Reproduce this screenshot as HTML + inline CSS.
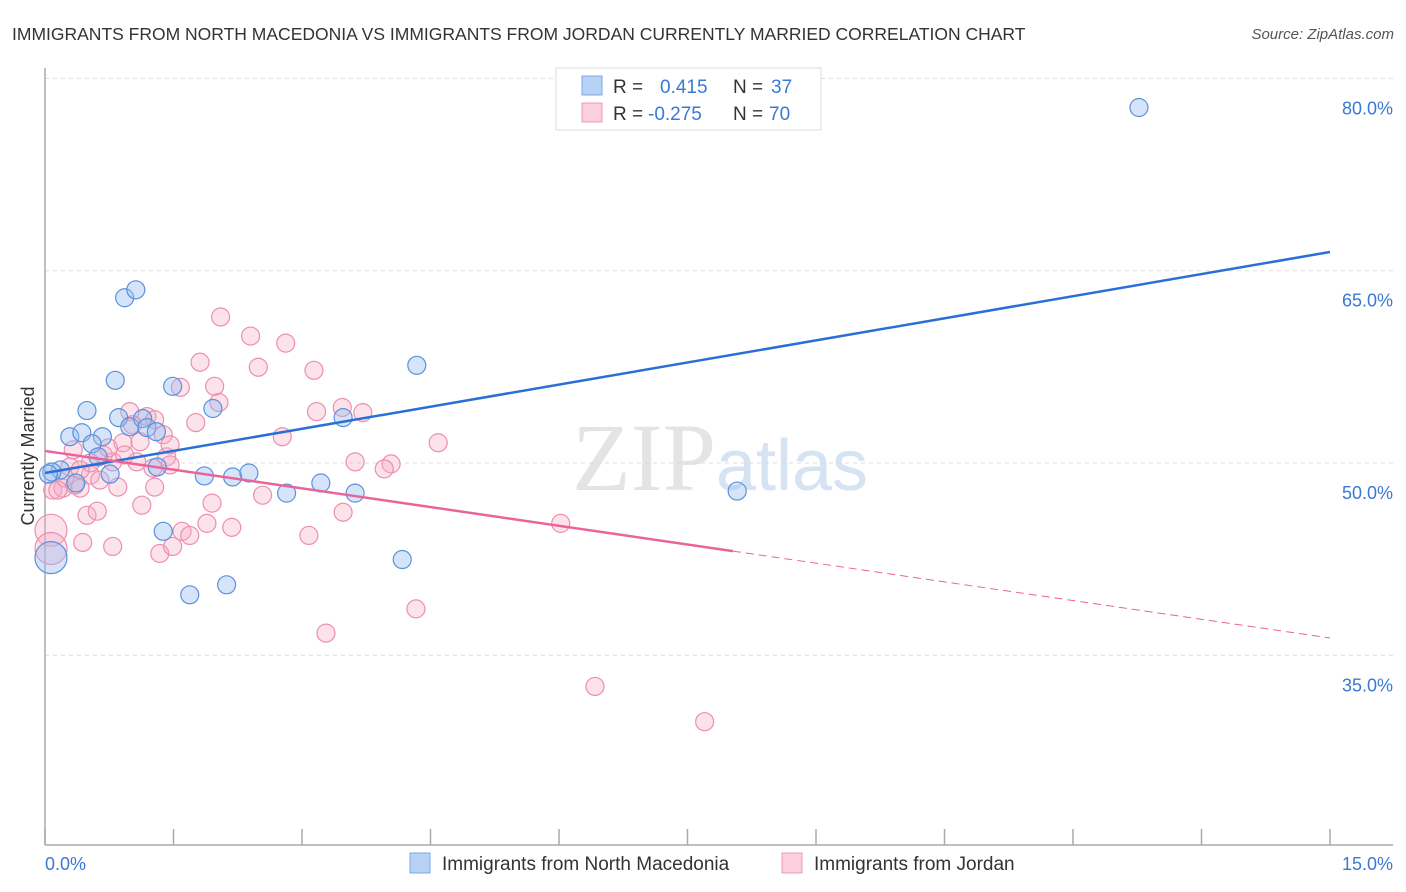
<!DOCTYPE html>
<html><head><meta charset="utf-8"><style>
body{margin:0;background:#fff;font-family:"Liberation Sans",sans-serif}
svg{display:block}
</style></head><body>
<svg id="chart" width="1406" height="892" xmlns="http://www.w3.org/2000/svg">
<text x="12" y="40" font-size="17.5" fill="#333">IMMIGRANTS FROM NORTH MACEDONIA VS IMMIGRANTS FROM JORDAN CURRENTLY MARRIED CORRELATION CHART</text>
<text x="1394" y="39" font-size="15" fill="#555" font-style="italic" text-anchor="end">Source: ZipAtlas.com</text>
<text x="720" y="490" font-size="96" fill="#e4e4e4" text-anchor="middle" font-family="Liberation Serif"><tspan>ZIP</tspan><tspan fill="#d5e3f3" font-family="Liberation Sans" font-size="72">atlas</tspan></text>
<g id="grid"></g>
<g id="axes"></g>
<g id="marks"></g>
<g id="trends"></g>
<text transform="translate(34,456) rotate(-90)" font-size="18" fill="#333" text-anchor="middle">Currently Married</text>
<g>
<rect x="556" y="68" width="265" height="62" fill="#fff" stroke="#ddd"/>
<rect x="582" y="76" width="20" height="19" fill="#b8d2f5" stroke="#7aa8e6"/>
<rect x="582" y="103" width="20" height="19" fill="#fbcfdc" stroke="#ee9bb5"/>
<text x="613" y="93" font-size="19" fill="#333">R = </text><text x="660" y="93" font-size="19" fill="#3b78d4">0.415</text>
<text x="733" y="93" font-size="19" fill="#333">N = </text><text x="771" y="93" font-size="19" fill="#3b78d4">37</text>
<text x="613" y="120" font-size="19" fill="#333">R = </text><text x="648" y="120" font-size="19" fill="#3b78d4">-0.275</text>
<text x="733" y="120" font-size="19" fill="#333">N = </text><text x="769" y="120" font-size="19" fill="#3b78d4">70</text>
</g>
<g>
<rect x="410" y="853" width="20" height="20" fill="#b8d2f5" stroke="#7aa8e6"/>
<text x="442" y="870" font-size="19" fill="#333">Immigrants from North Macedonia</text>
<rect x="782" y="853" width="20" height="20" fill="#fbcfdc" stroke="#ee9bb5"/>
<text x="814" y="870" font-size="19" fill="#333">Immigrants from Jordan</text>
</g>
</svg>
<script>
const yTicks=[80,65,50,35];
const yTickLabels=["80.0%","65.0%","50.0%","35.0%"];
const xTickLabels=["0.0%","15.0%"];
const blueX=[12.77,0.93,1.06,0.29,0.43,0.67,0.49,0.82,0.86,0.99,1.14,1.19,1.30,0.55,0.62,0.76,0.36,0.18,0.08,0.07,1.31,1.86,2.19,2.38,2.82,3.22,3.62,3.48,1.96,1.49,4.34,1.38,1.69,2.12,4.17,8.08,0.04];
const blueY=[77.73,62.89,63.51,52.05,52.36,52.05,54.09,56.45,53.54,52.83,53.46,52.76,52.44,51.50,50.48,49.14,48.44,49.46,49.30,42.62,49.69,48.99,48.91,49.22,47.65,48.44,47.65,53.54,54.25,55.98,57.62,44.67,39.72,40.50,42.47,47.81,49.14];
const blueR=[9,9,9,9,9,9,9,9,9,9,9,9,9,9,9,9,9,9,9,16,9,9,9,9,9,9,9,9,9,9,9,9,9,9,9,9,9];
const pinkX=[2.05,2.40,2.81,1.81,2.49,3.14,1.98,1.58,2.03,1.76,3.17,3.47,3.71,2.77,4.59,3.62,4.04,3.96,0.99,1.19,0.91,1.11,1.38,0.33,0.68,1.07,1.42,1.46,1.26,0.53,0.64,0.85,1.28,0.09,0.21,0.41,0.29,1.13,1.95,2.54,3.48,0.49,0.61,0.07,0.07,0.44,0.79,1.34,1.49,1.60,1.69,1.89,2.18,3.08,4.33,3.28,6.02,6.42,7.70,0.35,0.23,0.53,0.15,0.79,0.93,1.28,0.74,0.41,1.02,1.46];
const pinkY=[61.39,59.90,59.35,57.86,57.47,57.23,55.98,55.90,54.72,53.15,54.01,54.33,53.93,52.05,51.58,50.09,49.93,49.54,54.01,53.62,51.58,51.66,52.21,51.03,50.63,50.09,50.48,49.85,49.61,49.06,48.67,48.12,48.12,47.89,48.04,48.04,49.69,46.71,46.87,47.49,46.16,45.92,46.24,44.75,43.33,43.80,43.49,42.94,43.49,44.67,44.35,45.29,44.98,44.35,38.62,36.73,45.29,32.57,29.82,48.28,48.83,50.01,47.89,50.09,50.63,53.38,51.18,49.46,52.99,51.42];
const pinkR=[9,9,9,9,9,9,9,9,9,9,9,9,9,9,9,9,9,9,9,9,9,9,9,9,9,9,9,9,9,9,9,9,9,9,9,9,9,9,9,9,9,9,9,16,16,9,9,9,9,9,9,9,9,9,9,9,9,9,9,9,9,9,9,9,9,9,9,9,9,9];
const blueTrend=[49.22,66.46];
const pinkTrend=[50.94,36.35];
const pinkSolidEnd=8.03;
const NS="http://www.w3.org/2000/svg";
const X0=45,X1=1330,XMAX=15;
function xs(v){return X0+(X1-X0)*v/XMAX;}
function ys(v){return 463-(v-50)*12.82;}
function mk(tag,attrs,parent){const e=document.createElementNS(NS,tag);for(const k in attrs)e.setAttribute(k,attrs[k]);parent.appendChild(e);return e;}
const grid=document.getElementById('grid'),axes=document.getElementById('axes'),marks=document.getElementById('marks'),trends=document.getElementById('trends');
yTicks.forEach((t,i)=>{
  const l=mk('line',{x1:X0,x2:1393,y1:ys(t),y2:ys(t),stroke:'#ddd','stroke-dasharray':'4,4'},grid);
  
  
  const tx=mk('text',{x:1393,y:ys(t)+40-20+3+18-5,'font-size':18,fill:'#3b78d4','text-anchor':'end'},axes);
  
  
  tx.textContent=yTickLabels[i];
});
const ax=mk('line',{x1:X0,x2:X0,y1:68,y2:845,stroke:'#aaa','stroke-width':1.5},axes);


const bx=mk('line',{x1:X0,x2:1393,y1:845,y2:845,stroke:'#aaa','stroke-width':1.5},axes);


for(let i=0;i<=10;i++){
  const v=i*1.5;
  const tk=mk('line',{x1:xs(v),x2:xs(v),y1:829,y2:845,stroke:'#aaa','stroke-width':1.5},axes);
  
  
}
[[0,'start',45],[15,'end',1393]].forEach((p,i)=>{
  const t=mk('text',{x:p[2],y:870,'font-size':18,fill:'#3b78d4','text-anchor':p[1]},axes);
  
  
  t.textContent=xTickLabels[i];
});
function drawSeries(xa,ya,ra,fill,stroke,name){
  xa.forEach((x,i)=>{
    const c=mk('circle',{cx:xs(x),cy:ys(ya[i]),r:ra[i],fill:fill,stroke:stroke,'stroke-width':1.2},marks);
    
    
  });
}
drawSeries(pinkX,pinkY,pinkR,'rgba(247,172,198,0.35)','#ec8fae','jordan-point');
drawSeries(blueX,blueY,blueR,'rgba(150,188,240,0.4)','#5a92dc','macedonia-point');
const bt=mk('line',{x1:xs(0),y1:ys(blueTrend[0]),x2:xs(15),y2:ys(blueTrend[1]),stroke:'#2a6fd6','stroke-width':2.5},trends);


const pm=pinkTrend[0]+(pinkTrend[1]-pinkTrend[0])*pinkSolidEnd/15;
const pt=mk('line',{x1:xs(0),y1:ys(pinkTrend[0]),x2:xs(pinkSolidEnd),y2:ys(pm),stroke:'#e8649a','stroke-width':2.5},trends);


const pd=mk('line',{x1:xs(pinkSolidEnd),y1:ys(pm),x2:xs(15),y2:ys(pinkTrend[1]),stroke:'#e8649a','stroke-width':1,'stroke-dasharray':'8,5'},trends);


</script>
</body></html>
